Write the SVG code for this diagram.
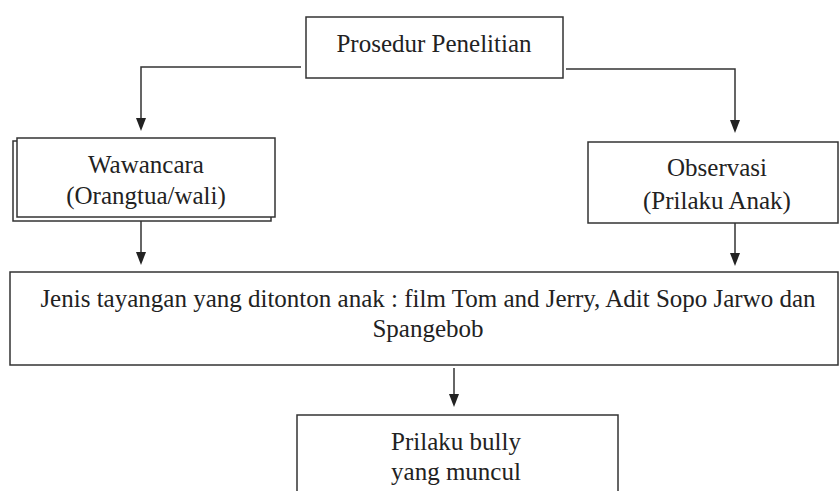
<svg xmlns="http://www.w3.org/2000/svg" width="839" height="491" viewBox="0 0 839 491">
<style>
.box{fill:#fff;stroke:#333;stroke-width:1.5}
.c{fill:none;stroke:#333;stroke-width:1.5}
.ah{fill:#222}
</style>
<rect width="839" height="491" fill="#fff"/>
<g id="prosedur">
<rect class="box" x="306" y="17" width="257" height="61"/>
<text x="434" y="52" style="font-family:'Liberation Serif',serif;font-size:25px;fill:#222;text-anchor:middle">Prosedur Penelitian</text>
</g>
<g id="wawancara">
<rect class="box" x="13" y="141" width="258" height="80"/>
<rect class="box" x="17" y="138" width="258" height="79"/>
<text x="146" y="173" style="font-family:'Liberation Serif',serif;font-size:25px;fill:#222;text-anchor:middle">Wawancara</text>
<text x="146" y="204" style="font-family:'Liberation Serif',serif;font-size:25px;fill:#222;text-anchor:middle">(Orangtua/wali)</text>
</g>
<g id="observasi">
<rect class="box" x="588" y="142" width="250" height="81"/>
<text x="717" y="176" style="font-family:'Liberation Serif',serif;font-size:25px;fill:#222;text-anchor:middle">Observasi</text>
<text x="717" y="209" style="font-family:'Liberation Serif',serif;font-size:25px;fill:#222;text-anchor:middle">(Prilaku Anak)</text>
</g>
<g id="jenis">
<rect class="box" x="10" y="272" width="828" height="93"/>
<text x="428" y="307" style="font-family:'Liberation Serif',serif;font-size:25px;fill:#222;text-anchor:middle">Jenis tayangan yang ditonton anak : film Tom and Jerry, Adit Sopo Jarwo dan</text>
<text x="428" y="337" style="font-family:'Liberation Serif',serif;font-size:25px;fill:#222;text-anchor:middle">Spangebob</text>
</g>
<g id="prilaku">
<rect class="box" x="297" y="415" width="321" height="90"/>
<text x="456" y="450" style="font-family:'Liberation Serif',serif;font-size:25px;fill:#222;text-anchor:middle">Prilaku bully</text>
<text x="456" y="480" style="font-family:'Liberation Serif',serif;font-size:25px;fill:#222;text-anchor:middle">yang muncul</text>
</g>
<g id="connectors">
<path class="c" d="M301,67 L141,67 L141,121"/>
<path class="ah" d="M136,118 L146,118 L141,131 Z"/>
<path class="c" d="M566,69 L735,69 L735,123"/>
<path class="ah" d="M730,120 L740,120 L735,133 Z"/>
<path class="c" d="M141,221 L141,255"/>
<path class="ah" d="M136,252 L146,252 L141,265 Z"/>
<path class="c" d="M735,223 L735,256"/>
<path class="ah" d="M730,253 L740,253 L735,266 Z"/>
<path class="c" d="M454,368 L454,397"/>
<path class="ah" d="M449,394 L459,394 L454,407 Z"/>
</g>
</svg>
